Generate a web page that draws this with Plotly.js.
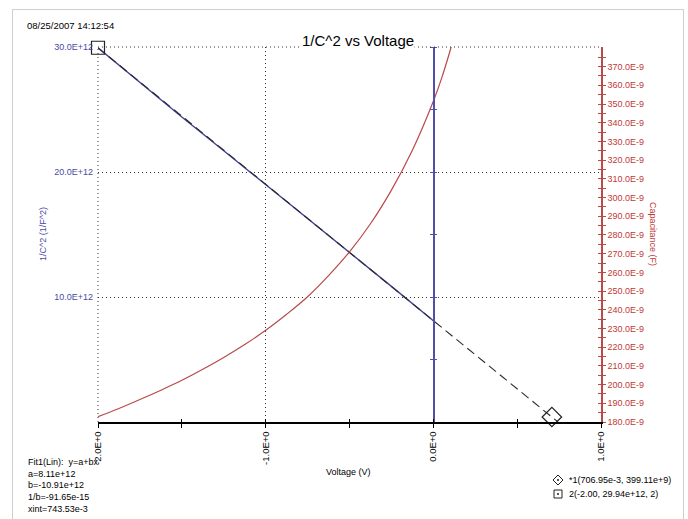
<!DOCTYPE html>
<html>
<head>
<meta charset="utf-8">
<script src="https://cdn.plot.ly/plotly-3.0.1.min.js"></script>
<style>
  html, body { margin: 0; padding: 0; background: #ffffff; }
  #wrap { position: relative; width: 688px; height: 519px; }
  #chart { position: absolute; left: 0; top: 0; width: 688px; height: 519px; }
  #frame { position: absolute; left: 12px; top: 9px; width: 670px; height: 520px;
           border: 1px solid #cfcfcf; pointer-events: none; }
</style>
</head>
<body>
<div id="wrap">
  <div id="frame"></div>
  <div id="chart"></div>
</div>
<script>
// C-V sweep: bias voltage (V)
const voltage = [-2.0, -1.875, -1.75, -1.625, -1.5, -1.375, -1.25, -1.125, -1.0, -0.875,
                 -0.75, -0.625, -0.5, -0.375, -0.25, -0.125, 0.0, 0.05, 0.1, 0.15];
// measured capacitance (F) at each bias
const capacitance = [182.8e-9, 187.2e-9, 192.0e-9, 197.0e-9, 202.3e-9, 208.2e-9, 214.5e-9,
                     221.4e-9, 229.0e-9, 237.6e-9, 247.0e-9, 258.3e-9, 271.0e-9, 286.0e-9,
                     304.0e-9, 325.3e-9, 351.5e-9, 364.0e-9, 378.5e-9, 394.0e-9];
// 1/C^2 (1/F^2) over the fitted bias range
const invVoltage = [-2.0, -1.75, -1.5, -1.25, -1.0, -0.75, -0.5, -0.25, 0.0];
const invC2 = [29.94e12, 27.15e12, 24.40e12, 21.70e12, 19.00e12, 16.30e12,
               13.60e12, 10.85e12, 8.10e12];

// linear fit y = a + b x
const fitA = 8.11e12;
const fitB = -10.91e12;
const fitXint = 743.53e-3;
const fitX = [-2.0, fitXint];

// cursor markers
const cursor1 = { x: 706.95e-3, y: 399.11e9 };
const cursor2 = { x: -2.00, y: 29.94e12 };

// axis ticks
const xTickVals = [-2, -1, 0, 1];
const xTickText = ['-2.0E+0', '-1.0E+0', '0.0E+0', '1.0E+0'];
const xMinorVals = [-1.5, -0.5, 0.5];
const yTickVals = [10e12, 20e12, 30e12];
const yTickText = ['10.0E+12', '20.0E+12', '30.0E+12'];
const yAxisMarks = [5e12, 10e12, 15e12, 20e12, 25e12, 30e12];
const capTickVals = [];
const capTickText = [];
for (let v = 180; v <= 370; v += 10) { capTickVals.push(v * 1e-9); capTickText.push(v.toFixed(1) + 'E-9'); }
const capMinorVals = [];
for (let v = 185; v <= 375; v += 10) capMinorVals.push(v * 1e-9);

const BLUE_LINE = '#40409a';
const BLUE_AXIS = '#5050ac';
const BLUE_TEXT = '#4a4aa2';
const RED_LINE = '#b84a48';
const RED_TEXT = '#c03a36';
const FONT = 'Liberation Sans, Arial, sans-serif';

const traces = [
  {
    x: voltage, y: capacitance, yaxis: 'y2', type: 'scatter', mode: 'lines',
    line: { color: RED_LINE, width: 1.2, shape: 'spline', smoothing: 1 }, hoverinfo: 'skip'
  },
  {
    x: invVoltage, y: invC2, type: 'scatter', mode: 'lines',
    line: { color: BLUE_LINE, width: 1.4 }, hoverinfo: 'skip'
  },
  {
    x: fitX, y: fitX.map(v => fitA + fitB * v), type: 'scatter', mode: 'lines',
    line: { color: '#2a2a2a', width: 1.1, dash: '9px,5px' }, hoverinfo: 'skip'
  },
  {
    x: [cursor2.x], y: [cursor2.y], type: 'scatter', mode: 'markers', cliponaxis: false,
    marker: { symbol: 'square-open', size: 13, color: '#222222', line: { width: 1.2 } }
  },
  {
    x: [cursor1.x], y: [cursor1.y], type: 'scatter', mode: 'markers', cliponaxis: false,
    marker: { symbol: 'diamond-open', size: 15, color: '#222222', line: { width: 1.2 } }
  },
  // empty traces so the auxiliary tick axes get drawn
  { x: [], y: [], xaxis: 'x2', yaxis: 'y3', type: 'scatter', mode: 'lines', hoverinfo: 'skip' },
  { x: [], y: [], yaxis: 'y4', type: 'scatter', mode: 'lines', hoverinfo: 'skip' },
  { x: [], y: [], yaxis: 'y5', type: 'scatter', mode: 'lines', hoverinfo: 'skip' }
];

// pixel helpers for text placement around the plot
const L = 98, T = 47, W = 503, H = 375;
const px = x => (x - L) / W;
const py = y => (T + H - y) / H;

const annotations = [
  { text: '08/25/2007 14:12:54', x: px(25), y: py(26), xanchor: 'left', yanchor: 'middle',
    font: { size: 9.5, color: '#000' } },
  { text: '1/C^2 vs Voltage', x: px(358), y: py(41), xanchor: 'center', yanchor: 'middle',
    font: { size: 15, color: '#000' }, bgcolor: '#ffffff', borderpad: 0 },
  { text: '1/C^2 (1/F^2)', x: px(43), y: py(234), textangle: -90, xanchor: 'center', yanchor: 'middle',
    font: { size: 9, color: BLUE_TEXT } },
  { text: 'Capacitance (F)', x: px(653), y: py(234), textangle: 90, xanchor: 'center', yanchor: 'middle',
    font: { size: 9, color: RED_TEXT } },
  { text: 'Voltage (V)', x: px(348), y: py(472), xanchor: 'center', yanchor: 'middle',
    font: { size: 9, color: '#000' } },
  { text: 'Fit1(Lin):  y=a+bx<br>a=8.11e+12<br>b=-10.91e+12<br>1/b=-91.65e-15<br>xint=743.53e-3',
    x: px(26), y: py(455), xanchor: 'left', yanchor: 'top', align: 'left',
    font: { size: 9, color: '#000' } },
  { text: '*1(706.95e-3, 399.11e+9)', x: px(567), y: py(480), xanchor: 'left', yanchor: 'middle',
    font: { size: 9, color: '#000' } },
  { text: '2(-2.00, 29.94e+12, 2)', x: px(567), y: py(494), xanchor: 'left', yanchor: 'middle',
    font: { size: 9, color: '#000' } }
].map(a => Object.assign({ xref: 'paper', yref: 'paper', showarrow: false }, a));

const gridDash = '1px,3px';
const gridLine = { color: '#333', width: 1, dash: gridDash };

const shapes = [
  // grid lines on the plot edges (left at -2 V, top at 30E+12)
  { type: 'line', xref: 'paper', yref: 'paper', x0: 0, x1: 0, y0: 0, y1: 1, line: gridLine },
  { type: 'line', xref: 'paper', yref: 'paper', x0: 0, x1: 1, y0: 1, y1: 1, line: gridLine },
  // legend glyphs: diamond with dot, square with dot
  { type: 'path', xref: 'paper', yref: 'paper',
    path: `M ${px(553)} ${py(480)} L ${px(558)} ${py(475)} L ${px(563)} ${py(480)} L ${px(558)} ${py(485)} Z`,
    line: { color: '#222', width: 1 } },
  { type: 'circle', xref: 'paper', yref: 'paper', x0: px(557), x1: px(559), y0: py(481), y1: py(479),
    fillcolor: '#222', line: { width: 0 } },
  { type: 'rect', xref: 'paper', yref: 'paper', x0: px(554), x1: px(562), y0: py(498), y1: py(490),
    line: { color: '#222', width: 1 } },
  { type: 'circle', xref: 'paper', yref: 'paper', x0: px(557), x1: px(559), y0: py(495), y1: py(493),
    fillcolor: '#222', line: { width: 0 } }
];

const layout = {
  width: 688, height: 519,
  margin: { l: L, r: 688 - L - W, t: T, b: 519 - T - H, pad: 0 },
  paper_bgcolor: 'rgba(0,0,0,0)',
  plot_bgcolor: 'rgba(0,0,0,0)',
  showlegend: false,
  font: { family: FONT, size: 9, color: '#000' },
  xaxis: {
    range: [-2, 1], tickmode: 'array', tickvals: xTickVals, ticktext: xTickText,
    tickangle: -90, tickfont: { size: 9.5, color: '#000' },
    ticks: 'outside', ticklen: 4, tickwidth: 1, tickcolor: '#000',
    minor: { tickmode: 'array', tickvals: xMinorVals, ticks: 'outside', ticklen: 4, tickcolor: '#000', showgrid: false },
    showline: true, linecolor: '#000', linewidth: 1.6,
    showgrid: true, gridcolor: '#333', gridwidth: 1, griddash: gridDash,
    zeroline: false, fixedrange: true
  },
  xaxis2: {
    overlaying: 'x', anchor: 'y', side: 'bottom', range: [-2, 1],
    tickmode: 'array', tickvals: xTickVals.concat(xMinorVals), showticklabels: false,
    ticks: 'inside', ticklen: 3, tickcolor: '#000', showline: false, showgrid: false, zeroline: false
  },
  yaxis: {
    range: [0, 30e12], tickmode: 'array', tickvals: yTickVals, ticktext: yTickText,
    tickfont: { size: 9, color: BLUE_TEXT }, ticks: '', ticklabelstandoff: 4,
    showline: false, showgrid: true, gridcolor: '#333', gridwidth: 1, griddash: gridDash,
    zeroline: false, fixedrange: true
  },
  yaxis2: {
    overlaying: 'y', side: 'right', anchor: 'x', range: [180e-9, 380.5e-9],
    tickmode: 'array', tickvals: capTickVals, ticktext: capTickText,
    tickfont: { size: 9, color: RED_TEXT },
    ticks: 'outside', ticklen: 3, tickcolor: RED_LINE,
    minor: { tickmode: 'array', tickvals: capMinorVals, ticks: 'outside', ticklen: 3, tickcolor: RED_LINE, showgrid: false },
    showline: true, linecolor: RED_LINE, linewidth: 1.6,
    showgrid: false, zeroline: false, fixedrange: true
  },
  yaxis4: {
    overlaying: 'y', side: 'right', anchor: 'x', range: [180e-9, 380.5e-9],
    tickmode: 'array', tickvals: capTickVals.concat(capMinorVals), showticklabels: false,
    ticks: 'inside', ticklen: 3, tickcolor: RED_LINE,
    showline: false, showgrid: false, zeroline: false
  },
  yaxis3: {
    overlaying: 'y', anchor: 'free', position: 2 / 3, side: 'left', range: [0, 30e12],
    tickmode: 'array', tickvals: yAxisMarks, showticklabels: false,
    ticks: 'outside', ticklen: 3, tickcolor: BLUE_AXIS,
    showline: true, linecolor: BLUE_AXIS, linewidth: 1.2,
    showgrid: false, zeroline: false
  },
  yaxis5: {
    overlaying: 'y', anchor: 'free', position: 2 / 3, side: 'right', range: [0, 30e12],
    tickmode: 'array', tickvals: yAxisMarks, showticklabels: false,
    ticks: 'outside', ticklen: 3, tickcolor: BLUE_AXIS,
    showline: false, showgrid: false, zeroline: false
  },
  shapes: shapes,
  annotations: annotations
};

Plotly.newPlot('chart', traces, layout, { displayModeBar: false, staticPlot: true });
</script>
</body>
</html>
